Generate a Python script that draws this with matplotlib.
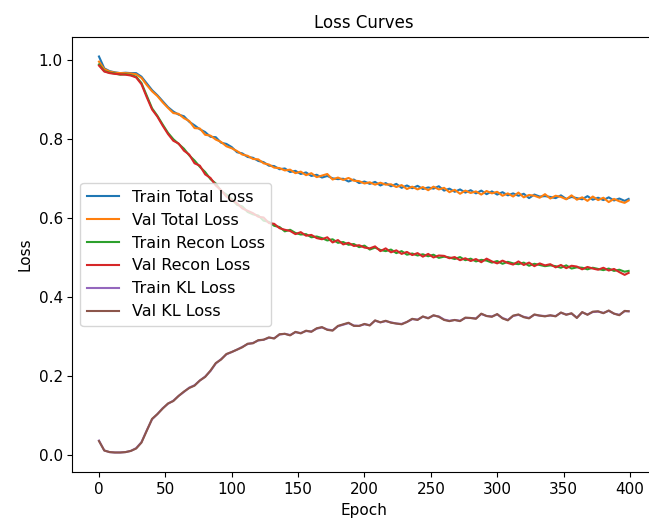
import matplotlib
matplotlib.use("Agg")
import matplotlib.pyplot as plt

# epochs sampled every 4, plus the last one
epochs = list(range(0, 400, 4)) + [399]

val_kl = [0.036, 0.012, 0.008, 0.007, 0.007, 0.008, 0.011, 0.017, 0.032, 0.062,
          0.092, 0.104, 0.118, 0.131, 0.137, 0.150, 0.161, 0.170, 0.176, 0.189,
          0.198, 0.214, 0.233, 0.242, 0.256, 0.261, 0.267, 0.273, 0.282, 0.283,
          0.291, 0.292, 0.298, 0.295, 0.306, 0.307, 0.303, 0.312, 0.308, 0.315,
          0.312, 0.321, 0.324, 0.317, 0.315, 0.327, 0.331, 0.335, 0.327, 0.327,
          0.332, 0.328, 0.341, 0.336, 0.340, 0.335, 0.333, 0.331, 0.337, 0.345,
          0.342, 0.351, 0.346, 0.354, 0.350, 0.342, 0.339, 0.342, 0.339, 0.348,
          0.347, 0.345, 0.358, 0.352, 0.350, 0.357, 0.346, 0.341, 0.353, 0.356,
          0.349, 0.346, 0.356, 0.353, 0.351, 0.354, 0.351, 0.361, 0.355, 0.359,
          0.347, 0.362, 0.355, 0.363, 0.364, 0.359, 0.366, 0.358, 0.354, 0.365,
          0.364]

train_kl = [0.037, 0.012, 0.008, 0.007, 0.007, 0.008, 0.011, 0.018, 0.033, 0.063,
            0.091, 0.104, 0.119, 0.130, 0.138, 0.150, 0.160, 0.171, 0.177, 0.189,
            0.199, 0.213, 0.232, 0.243, 0.255, 0.261, 0.267, 0.274, 0.281, 0.284,
            0.290, 0.292, 0.297, 0.296, 0.305, 0.307, 0.304, 0.311, 0.309, 0.314,
            0.313, 0.320, 0.323, 0.318, 0.316, 0.326, 0.330, 0.334, 0.328, 0.327,
            0.331, 0.329, 0.340, 0.336, 0.339, 0.336, 0.333, 0.332, 0.337, 0.344,
            0.343, 0.350, 0.347, 0.353, 0.351, 0.343, 0.340, 0.342, 0.340, 0.347,
            0.347, 0.346, 0.357, 0.352, 0.351, 0.356, 0.347, 0.342, 0.352, 0.355,
            0.350, 0.347, 0.355, 0.353, 0.352, 0.353, 0.352, 0.360, 0.356, 0.358,
            0.348, 0.361, 0.356, 0.362, 0.363, 0.360, 0.365, 0.358, 0.355, 0.364,
            0.364]

val_recon = [0.985, 0.970, 0.966, 0.964, 0.963, 0.962, 0.960, 0.955, 0.938, 0.905,
             0.874, 0.856, 0.833, 0.812, 0.795, 0.788, 0.770, 0.760, 0.738, 0.732,
             0.710, 0.701, 0.682, 0.670, 0.654,
             0.645, 0.637, 0.624, 0.618, 0.612, 0.603, 0.601, 0.587, 0.585, 0.574,
             0.570, 0.567, 0.559, 0.564, 0.555, 0.557, 0.549, 0.546, 0.551, 0.538,
             0.544, 0.533, 0.537, 0.529, 0.531, 0.525, 0.523, 0.528, 0.516, 0.523,
             0.513, 0.518, 0.509, 0.514, 0.506, 0.511, 0.502, 0.509, 0.500, 0.505,
             0.504, 0.498, 0.501, 0.493, 0.498, 0.491, 0.496, 0.488, 0.497, 0.490,
             0.485, 0.492, 0.486, 0.482, 0.490, 0.481, 0.487, 0.478, 0.485, 0.480,
             0.483, 0.475, 0.481, 0.473, 0.479, 0.477, 0.470, 0.476, 0.472, 0.469,
             0.474, 0.467, 0.471, 0.463, 0.456, 0.461]

train_recon = [0.988, 0.971, 0.967, 0.965, 0.962, 0.963, 0.961, 0.957, 0.941, 0.909,
               0.877, 0.858, 0.836, 0.815, 0.799, 0.787, 0.775, 0.758, 0.745, 0.729,
               0.716, 0.698, 0.687, 0.668, 0.659,
               0.648, 0.633, 0.629, 0.615, 0.609, 0.606, 0.593, 0.590, 0.580, 0.577,
               0.566, 0.570, 0.562, 0.558, 0.559, 0.551, 0.553, 0.549, 0.543, 0.546,
               0.537, 0.539, 0.532, 0.534, 0.526, 0.530, 0.520, 0.525, 0.519, 0.516,
               0.520, 0.511, 0.516, 0.507, 0.510, 0.505, 0.508, 0.503, 0.507, 0.499,
               0.502, 0.500, 0.496, 0.501, 0.493, 0.497, 0.490, 0.494, 0.492, 0.487,
               0.491, 0.484, 0.489, 0.485, 0.483, 0.487, 0.479, 0.484, 0.481, 0.478,
               0.480, 0.478, 0.474, 0.480, 0.472, 0.475, 0.474, 0.470, 0.474, 0.471,
               0.468, 0.472, 0.466, 0.469, 0.464, 0.466]

val_total = [0.995, 0.976, 0.970, 0.967, 0.966, 0.966, 0.965, 0.963, 0.954, 0.936,
             0.920, 0.908, 0.892, 0.878, 0.865, 0.863, 0.852, 0.845, 0.827, 0.826,
             0.810, 0.808, 0.798, 0.792, 0.781,
             0.776, 0.769, 0.760, 0.757, 0.749, 0.748, 0.738, 0.735, 0.727, 0.726,
             0.720, 0.722, 0.713, 0.717, 0.708, 0.713, 0.703, 0.707, 0.711, 0.697,
             0.702, 0.696, 0.701, 0.694, 0.693, 0.687, 0.690, 0.684, 0.689, 0.684,
             0.685, 0.678, 0.683, 0.673, 0.679, 0.672, 0.678, 0.670, 0.679, 0.672,
             0.676, 0.665, 0.671, 0.661, 0.669, 0.663, 0.667, 0.659, 0.668, 0.662,
             0.666, 0.656, 0.662, 0.654, 0.664, 0.652, 0.658, 0.656, 0.651, 0.660,
             0.649, 0.656, 0.653, 0.647, 0.657, 0.646, 0.652, 0.643, 0.654, 0.645,
             0.651, 0.640, 0.648, 0.642, 0.638, 0.644]

train_total = [1.008, 0.978, 0.971, 0.968, 0.966, 0.967, 0.966, 0.966, 0.957, 0.940,
               0.923, 0.910, 0.895, 0.880, 0.869, 0.861, 0.857, 0.843, 0.834, 0.824,
               0.817, 0.805, 0.804, 0.790, 0.787,
               0.779, 0.766, 0.763, 0.754, 0.752, 0.744, 0.741, 0.732, 0.731, 0.723,
               0.725, 0.716, 0.719, 0.711, 0.715, 0.706, 0.709, 0.702, 0.706, 0.700,
               0.698, 0.699, 0.692, 0.697, 0.688, 0.692, 0.686, 0.691, 0.682, 0.688,
               0.680, 0.686, 0.676, 0.682, 0.675, 0.681, 0.673, 0.677, 0.674, 0.680,
               0.669, 0.674, 0.666, 0.672, 0.664, 0.670, 0.662, 0.669, 0.660, 0.667,
               0.659, 0.665, 0.657, 0.662, 0.656, 0.661, 0.650, 0.659, 0.654, 0.655,
               0.653, 0.650, 0.657, 0.648, 0.653, 0.650, 0.647, 0.655, 0.646, 0.651,
               0.645, 0.652, 0.644, 0.649, 0.643, 0.648]

fig = plt.figure(figsize=(6.49, 5.25), dpi=100)
# the axes run slightly past the right edge, as in the cropped original
ax = fig.add_axes([0.1117, 0.1004, 0.8977, 0.8297])

ax.plot(epochs, train_total, label='Train Total Loss')
ax.plot(epochs, val_total, label='Val Total Loss')
ax.plot(epochs, train_recon, label='Train Recon Loss')
ax.plot(epochs, val_recon, label='Val Recon Loss')
ax.plot(epochs, train_kl, label='Train KL Loss')
ax.plot(epochs, val_kl, label='Val KL Loss')

ax.set_title('Loss Curves', fontsize=12)
ax.set_xlabel('Epoch', fontsize=11)
ax.set_ylabel('Loss', fontsize=11)
ax.set_xticks(range(0, 401, 50))
ax.tick_params(labelsize=11)
ax.spines['right'].set_visible(False)
ax.legend(loc='center left', fontsize=11.5)

fig.savefig('out.png', dpi=100)
